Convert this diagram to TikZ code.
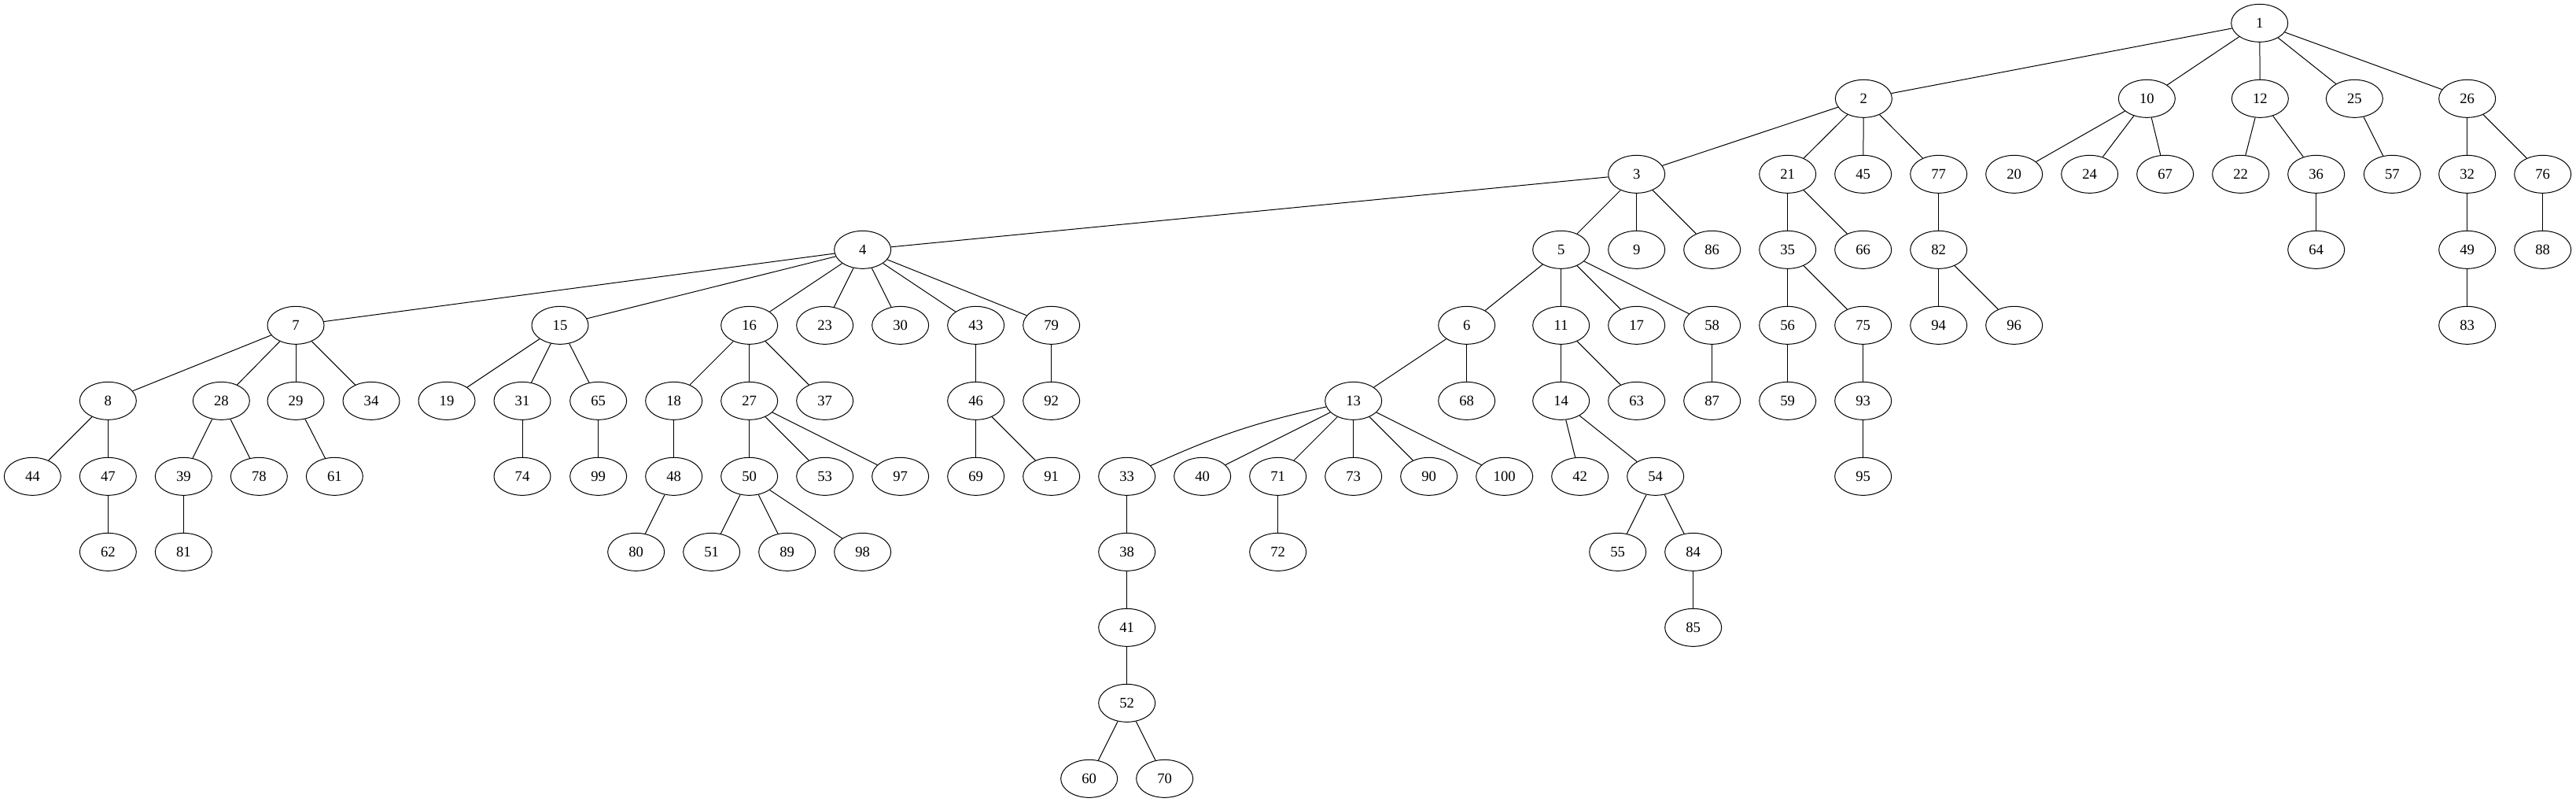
\documentclass[tikz,border=0pt]{standalone}
\usepackage{fontspec}
\setmainfont{Liberation Serif}
\usetikzlibrary{shapes.geometric}
\tikzset{
vertex/.style={draw,ellipse,line width=.75pt,minimum width=54pt,minimum height=36pt,inner sep=0pt,font=\fontsize{14}{16}\selectfont},
link/.style={line width=.75pt}
}
\begin{document}
\begin{tikzpicture}[x=1pt,y=1pt]
\useasboundingbox (0,0) rectangle (2456.25,-764.25);
% level 0 and 1
\node[vertex](n1) at (2154.5,-22){1};
\node[vertex](n2) at (1777,-94){2};\node[vertex](n10) at (2047,-94){10};\node[vertex](n12) at (2155,-94){12};
\node[vertex](n25) at (2245,-94){25};\node[vertex](n26) at (2352.5,-94){26};
% level 2
\node[vertex](n3) at (1560.5,-166){3};\node[vertex](n21) at (1704.5,-166){21};\node[vertex](n45) at (1776.5,-166){45};
\node[vertex](n77) at (1848.5,-166){77};\node[vertex](n20) at (1920.5,-166){20};\node[vertex](n24) at (1992.5,-166){24};
\node[vertex](n67) at (2064.5,-166){67};\node[vertex](n22) at (2136.5,-166){22};\node[vertex](n36) at (2208.5,-166){36};
\node[vertex](n57) at (2281,-166){57};\node[vertex](n32) at (2352.5,-166){32};\node[vertex](n76) at (2424.5,-166){76};
% level 3
\node[vertex](n4) at (822.5,-238){4};\node[vertex](n5) at (1488.5,-238){5};\node[vertex](n9) at (1560.5,-238){9};
\node[vertex](n86) at (1632.5,-238){86};\node[vertex](n35) at (1704.5,-238){35};\node[vertex](n66) at (1776.5,-238){66};
\node[vertex](n82) at (1848.5,-238){82};\node[vertex](n64) at (2208.5,-238){64};\node[vertex](n49) at (2352.5,-238){49};
\node[vertex](n88) at (2424.5,-238){88};
% level 4
\node[vertex](n7) at (282,-310){7};\node[vertex](n15) at (534,-310){15};\node[vertex](n16) at (714.5,-310){16};
\node[vertex](n23) at (786.5,-310){23};\node[vertex](n30) at (858.5,-310){30};\node[vertex](n43) at (930.5,-310){43};
\node[vertex](n79) at (1002.5,-310){79};\node[vertex](n6) at (1398.5,-310){6};\node[vertex](n11) at (1488.5,-310){11};
\node[vertex](n17) at (1560.5,-310){17};\node[vertex](n58) at (1632.5,-310){58};\node[vertex](n56) at (1704.5,-310){56};
\node[vertex](n75) at (1776.5,-310){75};\node[vertex](n94) at (1848.5,-310){94};\node[vertex](n96) at (1920.5,-310){96};
\node[vertex](n83) at (2352.5,-310){83};
% level 5
\node[vertex](n8) at (103,-382){8};\node[vertex](n28) at (211,-382){28};\node[vertex](n29) at (282,-382){29};
\node[vertex](n34) at (354,-382){34};\node[vertex](n19) at (426,-382){19};\node[vertex](n31) at (498,-382){31};
\node[vertex](n65) at (570.5,-382){65};\node[vertex](n18) at (642.5,-382){18};\node[vertex](n27) at (714.5,-382){27};
\node[vertex](n37) at (786.5,-382){37};\node[vertex](n46) at (930.5,-382){46};\node[vertex](n92) at (1002.5,-382){92};
\node[vertex](n13) at (1290.5,-382){13};\node[vertex](n68) at (1398.5,-382){68};\node[vertex](n14) at (1488.5,-382){14};
\node[vertex](n63) at (1560.5,-382){63};\node[vertex](n87) at (1632.5,-382){87};\node[vertex](n59) at (1704.5,-382){59};
\node[vertex](n93) at (1776.5,-382){93};
% level 6
\node[vertex](n44) at (31,-454){44};\node[vertex](n47) at (103,-454){47};\node[vertex](n39) at (175,-454){39};
\node[vertex](n78) at (247,-454){78};\node[vertex](n61) at (319,-454){61};\node[vertex](n74) at (498,-454){74};
\node[vertex](n99) at (570.5,-454){99};\node[vertex](n48) at (642.5,-454){48};\node[vertex](n50) at (714.5,-454){50};
\node[vertex](n53) at (786.5,-454){53};\node[vertex](n97) at (858.5,-454){97};\node[vertex](n69) at (930.5,-454){69};
\node[vertex](n91) at (1002.5,-454){91};\node[vertex](n33) at (1074.5,-454){33};\node[vertex](n40) at (1146.5,-454){40};
\node[vertex](n71) at (1218.5,-454){71};\node[vertex](n73) at (1290.5,-454){73};\node[vertex](n90) at (1362.5,-454){90};
\node[vertex](n100) at (1434.5,-454){100};\node[vertex](n42) at (1506.5,-454){42};\node[vertex](n54) at (1578.5,-454){54};
\node[vertex](n95) at (1776.5,-454){95};
% level 7 and below
\node[vertex](n62) at (103,-526){62};\node[vertex](n81) at (175,-526){81};\node[vertex](n80) at (606.5,-526){80};
\node[vertex](n51) at (678.5,-526){51};\node[vertex](n89) at (750.5,-526){89};\node[vertex](n98) at (822.5,-526){98};
\node[vertex](n38) at (1074.5,-526){38};\node[vertex](n72) at (1218.5,-526){72};\node[vertex](n55) at (1542.5,-526){55};
\node[vertex](n84) at (1614.5,-526){84};
\node[vertex](n41) at (1074.5,-598){41};\node[vertex](n85) at (1614.5,-598){85};
\node[vertex](n52) at (1074.5,-670){52};
\node[vertex](n60) at (1038.5,-742){60};\node[vertex](n70) at (1110.5,-742){70};
% edges
\draw[link](n1)--(n2);\draw[link](n1)--(n10);\draw[link](n1)--(n12);\draw[link](n1)--(n25);\draw[link](n1)--(n26);
\draw[link](n2)--(n3);\draw[link](n2)--(n21);\draw[link](n2)--(n45);\draw[link](n2)--(n77);
\draw[link](n10)--(n20);\draw[link](n10)--(n24);\draw[link](n10)--(n67);
\draw[link](n12)--(n22);\draw[link](n12)--(n36);\draw[link](n25)--(n57);\draw[link](n26)--(n32);\draw[link](n26)--(n76);
\draw[link](n3)--(n4);\draw[link](n3)--(n5);\draw[link](n3)--(n9);\draw[link](n3)--(n86);
\draw[link](n21)--(n35);\draw[link](n21)--(n66);\draw[link](n77)--(n82);\draw[link](n36)--(n64);
\draw[link](n32)--(n49);\draw[link](n76)--(n88);
\draw[link](n4)--(n7);\draw[link](n4)--(n15);\draw[link](n4)--(n16);\draw[link](n4)--(n23);
\draw[link](n4)--(n30);\draw[link](n4)--(n43);\draw[link](n4)--(n79);
\draw[link](n5)--(n6);\draw[link](n5)--(n11);\draw[link](n5)--(n17);\draw[link](n5)--(n58);
\draw[link](n35)--(n56);\draw[link](n35)--(n75);\draw[link](n82)--(n94);\draw[link](n82)--(n96);\draw[link](n49)--(n83);
\draw[link](n7)--(n8);\draw[link](n7)--(n28);\draw[link](n7)--(n29);\draw[link](n7)--(n34);
\draw[link](n15)--(n19);\draw[link](n15)--(n31);\draw[link](n15)--(n65);
\draw[link](n16)--(n18);\draw[link](n16)--(n27);\draw[link](n16)--(n37);
\draw[link](n43)--(n46);\draw[link](n79)--(n92);\draw[link](n6)--(n13);\draw[link](n6)--(n68);
\draw[link](n11)--(n14);\draw[link](n11)--(n63);\draw[link](n58)--(n87);\draw[link](n56)--(n59);\draw[link](n75)--(n93);
\draw[link](n8)--(n44);\draw[link](n8)--(n47);\draw[link](n28)--(n39);\draw[link](n28)--(n78);\draw[link](n29)--(n61);
\draw[link](n31)--(n74);\draw[link](n65)--(n99);\draw[link](n18)--(n48);
\draw[link](n27)--(n50);\draw[link](n27)--(n53);\draw[link](n27)--(n97);
\draw[link](n46)--(n69);\draw[link](n46)--(n91);
\draw[link](n13) to[bend right=6] (n33);\draw[link](n13)--(n40);\draw[link](n13)--(n71);
\draw[link](n13)--(n73);\draw[link](n13)--(n90);\draw[link](n13)--(n100);
\draw[link](n14)--(n42);\draw[link](n14)--(n54);\draw[link](n93)--(n95);
\draw[link](n47)--(n62);\draw[link](n39)--(n81);\draw[link](n48)--(n80);
\draw[link](n50)--(n51);\draw[link](n50)--(n89);\draw[link](n50)--(n98);
\draw[link](n33)--(n38);\draw[link](n71)--(n72);\draw[link](n54)--(n55);\draw[link](n54)--(n84);
\draw[link](n38)--(n41);\draw[link](n84)--(n85);\draw[link](n41)--(n52);
\draw[link](n52)--(n60);\draw[link](n52)--(n70);
\end{tikzpicture}
\end{document}
